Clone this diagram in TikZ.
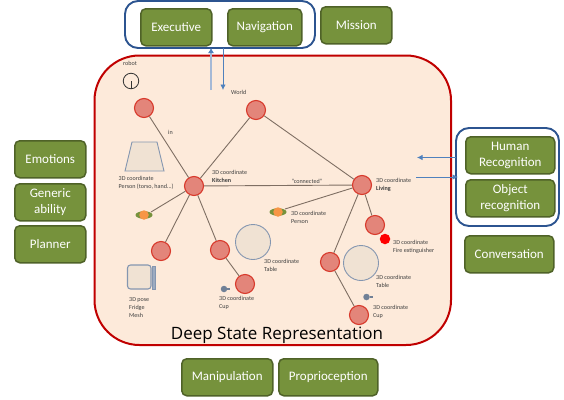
\documentclass[tikz,border=0pt]{standalone}
\usepackage{fontspec}
\setmainfont{Carlito}
\newfontfamily\titlefont{Open Sans}
\usetikzlibrary{arrows.meta,shapes.geometric}
\definecolor{grnfill}{HTML}{76923C}
\definecolor{grnline}{HTML}{4F6228}
\definecolor{framered}{HTML}{C00000}
\definecolor{panelfill}{HTML}{FDEADA}
\definecolor{nodefill}{HTML}{E3857A}
\definecolor{noderim}{HTML}{D8392B}
\definecolor{linkc}{HTML}{7F6F63}
\definecolor{groupblue}{HTML}{2C5490}
\definecolor{arrowblue}{HTML}{4F81BD}
\definecolor{paleblue}{HTML}{A5B9D6}
\definecolor{iconfill}{HTML}{F0E2D3}
\definecolor{iconline}{HTML}{8496B0}
\definecolor{labelc}{HTML}{404040}
\definecolor{persono}{HTML}{F79646}
\tikzset{
  mod/.style={draw=grnline,line width=1.5pt,fill=grnfill,rounded corners=5pt,text=white,align=center,font=\fontsize{13}{16}\selectfont,inner sep=0pt,anchor=north west},
  graphnode/.style={circle,draw=noderim,line width=1.1pt,fill=nodefill,minimum size=19pt,inner sep=0pt},
  link/.style={draw=linkc,line width=0.9pt},
  lab/.style={text=labelc,font=\fontsize{6.1}{7.7}\selectfont,align=left,anchor=north west,inner sep=0pt},
  group/.style={draw=groupblue,line width=1.9pt,rounded corners=13pt},
  flow/.style={draw=arrowblue,line width=0.8pt,-{Latex[length=5.5pt,width=5.5pt]}},
  iconshape/.style={draw=iconline,line width=0.9pt,fill=iconfill},
  personcore/.style={circle,fill=persono,minimum size=9.5pt,inner sep=0pt},
  persontray/.style={ellipse,fill=grnfill,minimum width=17pt,minimum height=7.5pt,inner sep=0pt}
}
\begin{document}
\begin{tikzpicture}[x=1pt,y=-1pt]
\useasboundingbox (0,0) rectangle (564,399);
% panel
\draw[draw=framered,line width=2pt,fill=panelfill,rounded corners=45pt] (94.5,55.5) rectangle (451,345);
% groups
\draw[group,fill=white] (125,1) rectangle (315,48);
\draw[group,fill=white] (456,128) rectangle (559,226);
% modules
\node[mod,minimum width=71pt,minimum height=37pt] (exec) at (140,8) {Executive};
\node[mod,minimum width=74pt,minimum height=37pt] (navi) at (227,8) {Navigation};
\node[mod,minimum width=71pt,minimum height=37pt] (miss) at (320,6) {Mission};
\node[mod,minimum width=71pt,minimum height=37pt] (emo) at (14,140) {Emotions};
\node[mod,minimum width=71pt,minimum height=37pt] (gen) at (14,183) {Generic\\ability};
\node[mod,minimum width=71pt,minimum height=37pt] (plan) at (14,225) {Planner};
\node[mod,minimum width=89pt,minimum height=37pt] (human) at (465,136) {Human\\Recognition};
\node[mod,minimum width=89pt,minimum height=37pt] (object) at (465,179) {Object\\recognition};
\node[mod,minimum width=89pt,minimum height=37pt] (conv) at (464,235) {Conversation};
\node[mod,minimum width=91pt,minimum height=37pt] (mani) at (181,358) {Manipulation};
\node[mod,minimum width=99pt,minimum height=37pt] (prop) at (278,358) {Proprioception};
% graph nodes
\node[graphnode] (in) at (144,108) {};
\node[graphnode] (world) at (256,110) {};
\node[graphnode] (kitchen) at (194,186) {};
\node[graphnode] (living) at (362,185) {};
\node[graphnode] (fridge) at (161,251) {};
\node[graphnode] (ktable) at (220,250) {};
\node[graphnode] (kcup) at (245,284) {};
\node[graphnode] (fire) at (375,225) {};
\node[graphnode] (ltable) at (330,262) {};
\node[graphnode] (lcup) at (359,315) {};
% person icons
\node[persontray] (kptray) at (144,215) {};
\node[personcore] (kperson) at (144,215) {};
\node[persontray] (lptray) at (278,212) {};
\node[personcore] (lperson) at (278,212) {};
% links
\draw[link] (in) -- (kitchen);
\draw[link] (world) -- (kitchen);
\draw[link] (world) -- (living);
\draw[link] (kitchen) -- (living) node[midway,above=0.4pt,text=labelc,font=\fontsize{6.1}{7}\selectfont,xshift=29pt,inner sep=1pt] {"connected"};
\draw[link] (kitchen) -- ([xshift=7pt,yshift=3pt]kperson.center);
\draw[link] (kitchen) -- (fridge);
\draw[link] (kitchen) -- (ktable);
\draw[link] (ktable) -- (kcup);
\draw[link] (living) -- ([xshift=7pt,yshift=3pt]lperson.center);
\draw[link] (living) -- (fire);
\draw[link] (living) -- (ltable);
\draw[link] (ltable) -- (lcup);
% robot
\node[circle,draw=black!80,line width=0.8pt,minimum size=15.5pt,inner sep=0pt] (robot) at (131,81) {};
\draw[black!80,line width=0.7pt] (robot.center) -- (robot.south);
% icons
\draw[iconshape] (125,171) -- (132,142) -- (157,142) -- (164,171) -- cycle;
\node[circle,iconshape,minimum size=35pt,inner sep=0pt] (ktablei) at (253,242) {};
\node[circle,iconshape,minimum size=35pt,inner sep=0pt] (ltablei) at (361,263) {};
\draw[iconshape,rounded corners=3pt,line width=1.1pt] (127.5,265) rectangle (151,289);
\draw[iconshape,fill=iconline!80] (152,266) rectangle (155,289);
\node[circle,fill=red,minimum size=10.5pt,inner sep=0pt] (extinguisher) at (385,239) {};
\node[circle,fill=iconline!85!black,minimum size=6.5pt,inner sep=0pt] (kcupi) at (224,289) {};
\draw[iconline!85!black,line width=1.6pt] (kcupi.east) -- ++(3,0);
\node[circle,fill=iconline!85!black,minimum size=6.5pt,inner sep=0pt] (lcupi) at (366.5,297) {};
\draw[iconline!85!black,line width=1.6pt] (lcupi.east) -- ++(3,0);
% labels
\node[lab] (lrobot) at (123,61) {robot};
\node[lab] (lworld) at (231,90.5) {World};
\node[lab] (lin) at (168,130) {in};
\node[lab] (lp1) at (118.5,176) {3D coordinate\\Person (torso, hand...)};
\node[lab] (lk) at (212,170) {3D coordinate\\\textbf{Kitchen}};
\node[lab] (ll) at (376,178) {3D coordinate\\\textbf{Living}};
\node[lab] (lp2) at (291,211.5) {3D coordinate\\Person};
\node[lab] (lt1) at (264,259) {3D coordinate\\Table};
\node[lab] (lf) at (393,240.5) {3D coordinate\\Fire extinguisher};
\node[lab] (lt2) at (376,275.5) {3D coordinate\\Table};
\node[lab] (lc1) at (219,296) {3D coordinate\\Cup};
\node[lab] (lc2) at (373,305.5) {3D coordinate\\Cup};
\node[lab] (lfr) at (129,297.5) {3D pose\\Fridge\\Mesh};
\node[anchor=base,inner sep=0pt,font=\titlefont\fontsize{17}{20}\selectfont,text=black] (title) at (277,339.5) {Deep State Representation};
% flows
\coordinate (upS) at (211,90);
\coordinate (upE) at (211,48);
\coordinate (dnS) at (223,48);
\coordinate (dnE) at (223,90);
\coordinate (hS) at (456,157.5);
\coordinate (hE) at (417,157.5);
\coordinate (oS) at (416,177);
\coordinate (oE) at (458,177);
\draw[draw=paleblue,line width=1.5pt,-{Latex[length=5pt,width=6pt,color=arrowblue]}] (upS) -- (upE);
\draw[flow] (dnS) -- (dnE);
\draw[flow] (hS) -- (hE);
\draw[flow] (oS) -- (oE);
\end{tikzpicture}
\end{document}
